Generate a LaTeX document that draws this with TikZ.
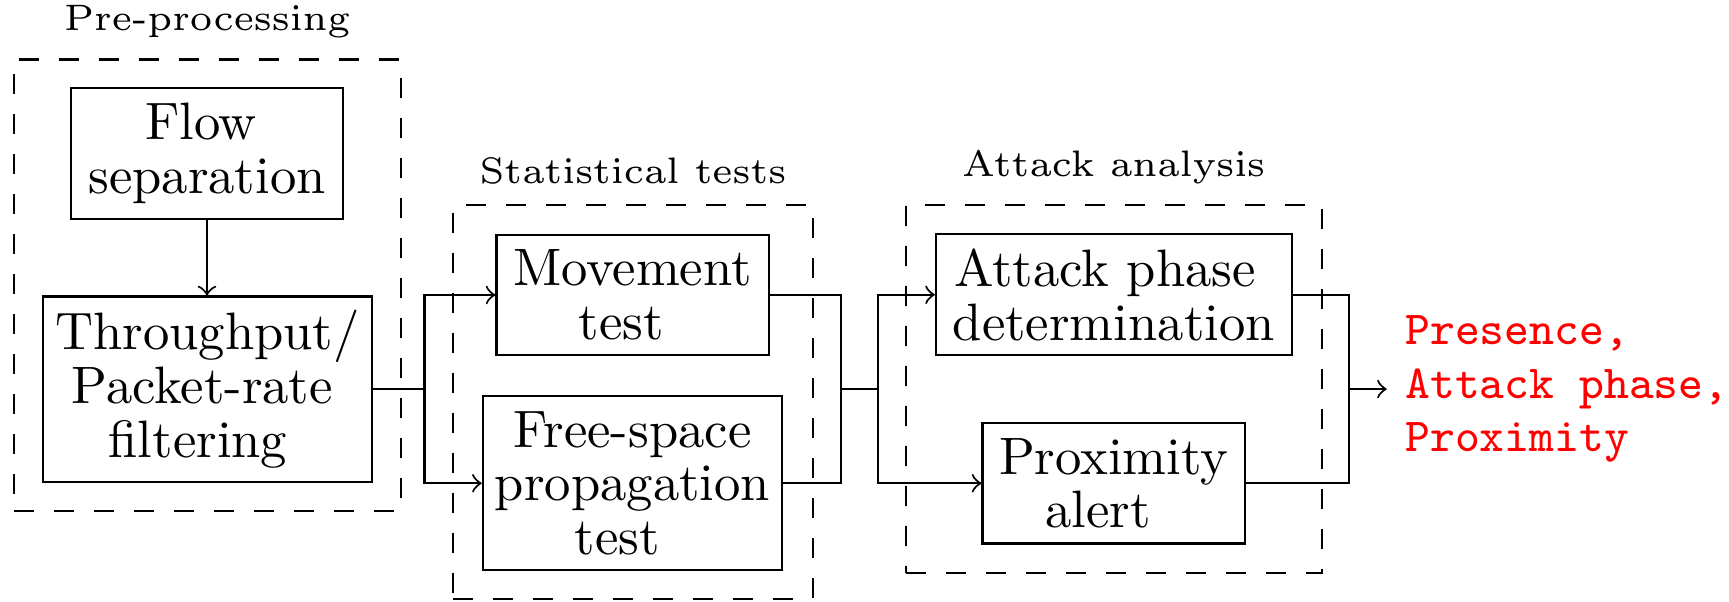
\documentclass[tikz,border=0pt]{standalone}
\usetikzlibrary{positioning}
\font\lblf=cmr6 at 7pt
\begin{document}
\begin{tikzpicture}[x=0.19pt,y=-0.19pt, >=to, line width=0.4pt,
  blk/.style={draw, align=center, inner sep=0pt, font=\fontsize{10}{10.2}\selectfont},
  dbox/.style={draw, dash pattern=on 3.8pt off 3.8pt, inner sep=0pt},
  lbl/.style={font=\lblf, inner sep=0pt},
  outtxt/.style={align=left, text=red, inner sep=3.33pt, font=\fontsize{9}{10.2}\selectfont\ttfamily}]
\useasboundingbox (0,0) rectangle (1729,602);

% dashed groups
\node[dbox, minimum width=73.47pt, minimum height=85.86pt] (prebox) at (207.25,285.45) {};
\node[dbox, minimum width=68.3pt, minimum height=74.8pt] (statbox) at (633.05,402.2) {};
\node[dbox, minimum width=78.96pt, minimum height=69.88pt] (attbox) at (1113.8,389.3) {};

\node[lbl, above=3.8pt of prebox] (prelbl) {Pre-processing};
\node[lbl, above=3.8pt of statbox] (statlbl) {Statistical tests};
\node[lbl, above=3.8pt of attbox] (attlbl) {Attack analysis};

% blocks
\node[blk, minimum width=51.7pt, minimum height=24.8pt] (flow) at (207,153.5) {Flow\kern2.3pt\\separation};
\node[blk, minimum width=62.4pt, minimum height=35.2pt] (thr) at (207.5,389.1) {Throughput/\\Packet-rate\kern2pt\\filtering\kern3.6pt};
\node[blk, minimum width=51.7pt, minimum height=22.8pt] (mov) at (632.5,295) {Movement\\test\kern4.2pt};
\node[blk, minimum width=56.9pt, minimum height=33pt] (fsp) at (632.5,483.3) {Free-space\\propagation\\test\kern5.7pt};
\node[blk, minimum width=67.6pt, minimum height=23pt] (atk) at (1113.8,294.8) {Attack phase\kern3.3pt\\determination};
\node[blk, minimum width=49.8pt, minimum height=22.9pt] (prx) at (1113.5,483.3) {Proximity\\alert\kern5.9pt};

% junctions
\coordinate (j1) at (424.5,389.1);
\coordinate (j2) at (840.6,389.1);
\coordinate (j3) at (877.7,389.1);
\coordinate (j4) at (1349.4,389.1);

\node[outtxt, anchor=west] (out) at (1386.7,389.1) {Presence,\\Attack phase,\\Proximity};

% connectors
\draw[->] (flow.south) -- (flow.south |- thr.north);
\draw (thr.east) -- (j1);
\draw[->] (j1) |- (mov.west);
\draw[->] (j1) |- (fsp.west);
\draw (mov.east) -| (j2);
\draw (fsp.east) -| (j2);
\draw (j2) -- (j3);
\draw[->] (j3) |- (atk.west);
\draw[->] (j3) |- (prx.west);
\draw (atk.east) -| (j4);
\draw (prx.east) -| (j4);
\draw[->] (j4) -- (out.west);
\end{tikzpicture}
\end{document}
